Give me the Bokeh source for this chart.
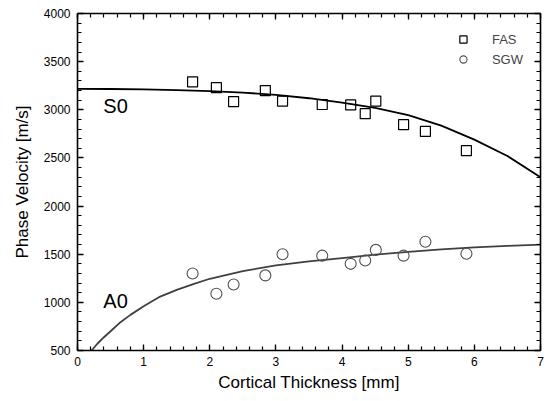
from bokeh.plotting import figure
from bokeh.models import (Range1d, LinearAxis, SingleIntervalTicker, Legend, LegendItem,
                          Label, CustomJSTickFormatter)
from bokeh.embed import file_html
from bokeh.resources import INLINE

# Data
fas_x = [1.74, 2.10, 2.36, 2.84, 3.10, 3.70, 4.13, 4.35, 4.51, 4.93, 5.26, 5.88]
fas_y = [3290, 3230, 3085, 3200, 3090, 3055, 3050, 2960, 3090, 2845, 2775, 2575]
sgw_x = [1.74, 2.10, 2.36, 2.84, 3.10, 3.70, 4.13, 4.35, 4.51, 4.93, 5.26, 5.88]
sgw_y = [1300, 1090, 1185, 1280, 1500, 1485, 1400, 1435, 1545, 1485, 1630, 1505]
s0_x = [0, 0.5, 1, 1.5, 2, 2.5, 3, 3.5, 4, 4.5, 5, 5.5, 6, 6.5, 7]
s0_y = [3218, 3216, 3212, 3205, 3193, 3178, 3155, 3120, 3075, 3020, 2945, 2835, 2690, 2520, 2300]
a0_x = [0.2, 0.3, 0.4, 0.5, 0.65, 0.8, 1.0, 1.25, 1.5, 1.75, 2, 2.5, 3, 3.5, 4, 4.5, 5, 5.5, 6, 6.5, 7]
a0_y = [490, 570, 638, 700, 794, 870, 960, 1060, 1130, 1190, 1245, 1325, 1383, 1425, 1460, 1495, 1525, 1550, 1570, 1587, 1600]

FONT = "Liberation Sans"

p = figure(width=548, height=401, output_backend="svg", toolbar_location=None,
           x_range=Range1d(0, 7), y_range=Range1d(500, 4000),
           x_axis_label="Cortical Thickness [mm]", y_axis_label="Phase Velocity [m/s]",
           min_border_left=77, min_border_right=8, min_border_top=13, min_border_bottom=51)
p.outline_line_color = None
p.xgrid.visible = False
p.ygrid.visible = False
p.background_fill_color = "white"
p.border_fill_color = "white"

p.xaxis.ticker = SingleIntervalTicker(interval=1, num_minor_ticks=5)
p.yaxis.ticker = SingleIntervalTicker(interval=500, num_minor_ticks=5)

def style_axis(ax, labels=True):
    ax.axis_line_width = 1.6
    ax.axis_line_color = "black"
    ax.major_tick_in = 6
    ax.major_tick_out = 0
    ax.minor_tick_in = 4
    ax.minor_tick_out = 0
    ax.major_tick_line_width = 1.3
    ax.minor_tick_line_width = 1.2
    ax.major_tick_line_color = "black"
    ax.minor_tick_line_color = "black"
    if labels:
        ax.major_label_text_font = FONT
        ax.major_label_text_font_size = "12px"
        ax.major_label_text_color = "black"
        ax.axis_label_text_font = FONT
        ax.axis_label_text_font_size = "17px"
        ax.axis_label_text_font_style = "normal"
        ax.axis_label_text_color = "black"
    else:
        ax.formatter = CustomJSTickFormatter(code="return '';")
        ax.major_label_standoff = 0

for ax in p.xaxis:
    style_axis(ax)
    ax.major_label_standoff = 6
    ax.axis_label_standoff = 4
for ax in p.yaxis:
    style_axis(ax)
    ax.major_label_standoff = 7
    ax.axis_label_standoff = 9

top = LinearAxis(ticker=SingleIntervalTicker(interval=1, num_minor_ticks=5))
right = LinearAxis(ticker=SingleIntervalTicker(interval=500, num_minor_ticks=5))
style_axis(top, labels=False)
style_axis(right, labels=False)
p.add_layout(top, "above")
p.add_layout(right, "right")

# Curves
p.line(s0_x, s0_y, line_color="black", line_width=1.8)
p.line(a0_x, a0_y, line_color="#404040", line_width=1.8)

# Points
r_fas = p.scatter(fas_x, fas_y, marker="square", size=10, fill_color=None,
                  line_color="black", line_width=1.2)
r_sgw = p.scatter(sgw_x, sgw_y, marker="circle", size=11, fill_color=None,
                  line_color="#505050", line_width=1.1)

p.add_layout(Label(x=0.39, y=3035, text="S0", text_font=FONT, text_font_size="20px",
                   text_baseline="middle", text_color="black"))
p.add_layout(Label(x=0.39, y=1010, text="A0", text_font=FONT, text_font_size="20px",
                   text_baseline="middle", text_color="black"))

legend = Legend(items=[LegendItem(label="FAS", renderers=[r_fas]),
                       LegendItem(label="SGW", renderers=[r_sgw])],
                location="top_right", border_line_color=None, background_fill_alpha=0,
                label_text_font=FONT, label_text_font_size="13px",
                glyph_width=20, glyph_height=18, spacing=2, padding=0, margin=17,
                label_standoff=19)
p.add_layout(legend)

open("out.html", "w").write(file_html(p, INLINE))
